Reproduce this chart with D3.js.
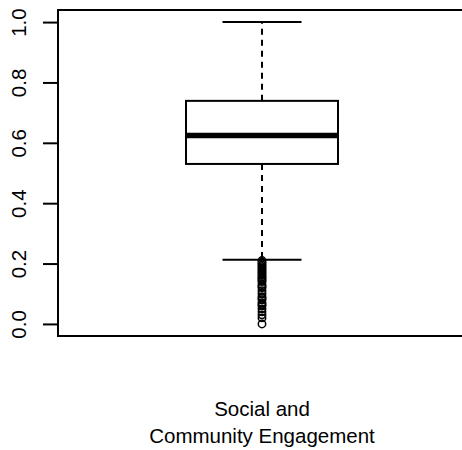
<!DOCTYPE html>
<html>
<head>
<meta charset="utf-8">
<script src="https://cdn.jsdelivr.net/npm/d3@7"></script>
<style>
  html, body { margin: 0; padding: 0; background: #fff; }
  svg { display: block; }
  text { font-family: "Liberation Sans", Arial, sans-serif; fill: #000; }
</style>
</head>
<body>
<script>
// Five-number summary for the single box
const boxLabel = ["Social and", "Community Engagement"];
const boxStats = { lowWhisker: 0.213, q1: 0.530, median: 0.624, q3: 0.739, highWhisker: 1.0 };
// Points beyond the lower whisker
const outliers = [0.21, 0.205, 0.2, 0.195, 0.19, 0.185, 0.18, 0.175, 0.17, 0.165, 0.16,
  0.155, 0.15, 0.145, 0.14, 0.13, 0.125, 0.12, 0.11, 0.1, 0.09, 0.085, 0.08, 0.07,
  0.065, 0.06, 0.05, 0.04, 0.03, 0.02, 0.0];
const yTicks = [0.0, 0.2, 0.4, 0.6, 0.8, 1.0];

const W = 462, H = 450;
const frame = { left: 58, right: 466, top: 10, bottom: 336 };

const svg = d3.select("body").append("svg").attr("width", W).attr("height", H);

// y-range padded by 4% on each side, as in base R graphics
const y = d3.scaleLinear().domain([-0.04, 1.04]).range([frame.bottom, frame.top]);
const x = d3.scaleLinear().domain([0.5, 1.5]).range([frame.left, frame.right]);

// Plot frame
svg.append("rect")
  .attr("x", frame.left).attr("y", frame.top)
  .attr("width", frame.right - frame.left).attr("height", frame.bottom - frame.top)
  .attr("fill", "none").attr("stroke", "#000").attr("stroke-width", 2);

// Y axis
const yAxis = d3.axisLeft(y).tickValues(yTicks).tickFormat(d3.format(".1f")).tickSize(15).tickPadding(0);
const gy = svg.append("g").attr("transform", `translate(${frame.left},0)`).call(yAxis);
gy.select(".domain").remove();
gy.selectAll(".tick line").attr("stroke", "#000").attr("stroke-width", 2);
gy.selectAll(".tick text")
  .attr("font-size", 20.5)
  .attr("font-family", "Liberation Sans, Arial, sans-serif")
  .attr("fill", "#000")
  .attr("text-anchor", "middle")
  .attr("dy", null)
  .attr("x", null)
  .attr("transform", "translate(-40,0) rotate(-90)")
  .attr("dominant-baseline", "central");

const cx = x(1);
const boxW = 152, capW = 79;

// Whiskers (dashed)
svg.append("line")
  .attr("x1", cx).attr("x2", cx)
  .attr("y1", y(boxStats.q3)).attr("y2", y(boxStats.highWhisker))
  .attr("stroke", "#000").attr("stroke-width", 2).attr("stroke-dasharray", "6,5");
svg.append("line")
  .attr("x1", cx).attr("x2", cx)
  .attr("y1", y(boxStats.q1)).attr("y2", y(boxStats.lowWhisker))
  .attr("stroke", "#000").attr("stroke-width", 2).attr("stroke-dasharray", "6,5");

// Whisker caps
[boxStats.highWhisker, boxStats.lowWhisker].forEach(v => {
  svg.append("line")
    .attr("x1", cx - capW / 2).attr("x2", cx + capW / 2)
    .attr("y1", y(v)).attr("y2", y(v))
    .attr("stroke", "#000").attr("stroke-width", 2);
});

// Box
svg.append("rect")
  .attr("x", cx - boxW / 2).attr("y", y(boxStats.q3))
  .attr("width", boxW).attr("height", y(boxStats.q1) - y(boxStats.q3))
  .attr("fill", "#fff").attr("stroke", "#000").attr("stroke-width", 2);

// Median
svg.append("line")
  .attr("x1", cx - boxW / 2).attr("x2", cx + boxW / 2)
  .attr("y1", y(boxStats.median)).attr("y2", y(boxStats.median))
  .attr("stroke", "#000").attr("stroke-width", 5.5);

// Outliers
svg.append("g").selectAll("circle").data(outliers).join("circle")
  .attr("cx", cx).attr("cy", d => y(d)).attr("r", 3.7)
  .attr("fill", "none").attr("stroke", "#000").attr("stroke-width", 1.5);

// Category label
svg.append("text")
  .attr("x", cx).attr("y", 416)
  .attr("text-anchor", "middle")
  .attr("font-size", 20.5)
  .selectAll("tspan").data(boxLabel).join("tspan")
  .attr("x", cx).attr("dy", (d, i) => i === 0 ? 0 : 26.5)
  .text(d => d);
</script>
</body>
</html>
